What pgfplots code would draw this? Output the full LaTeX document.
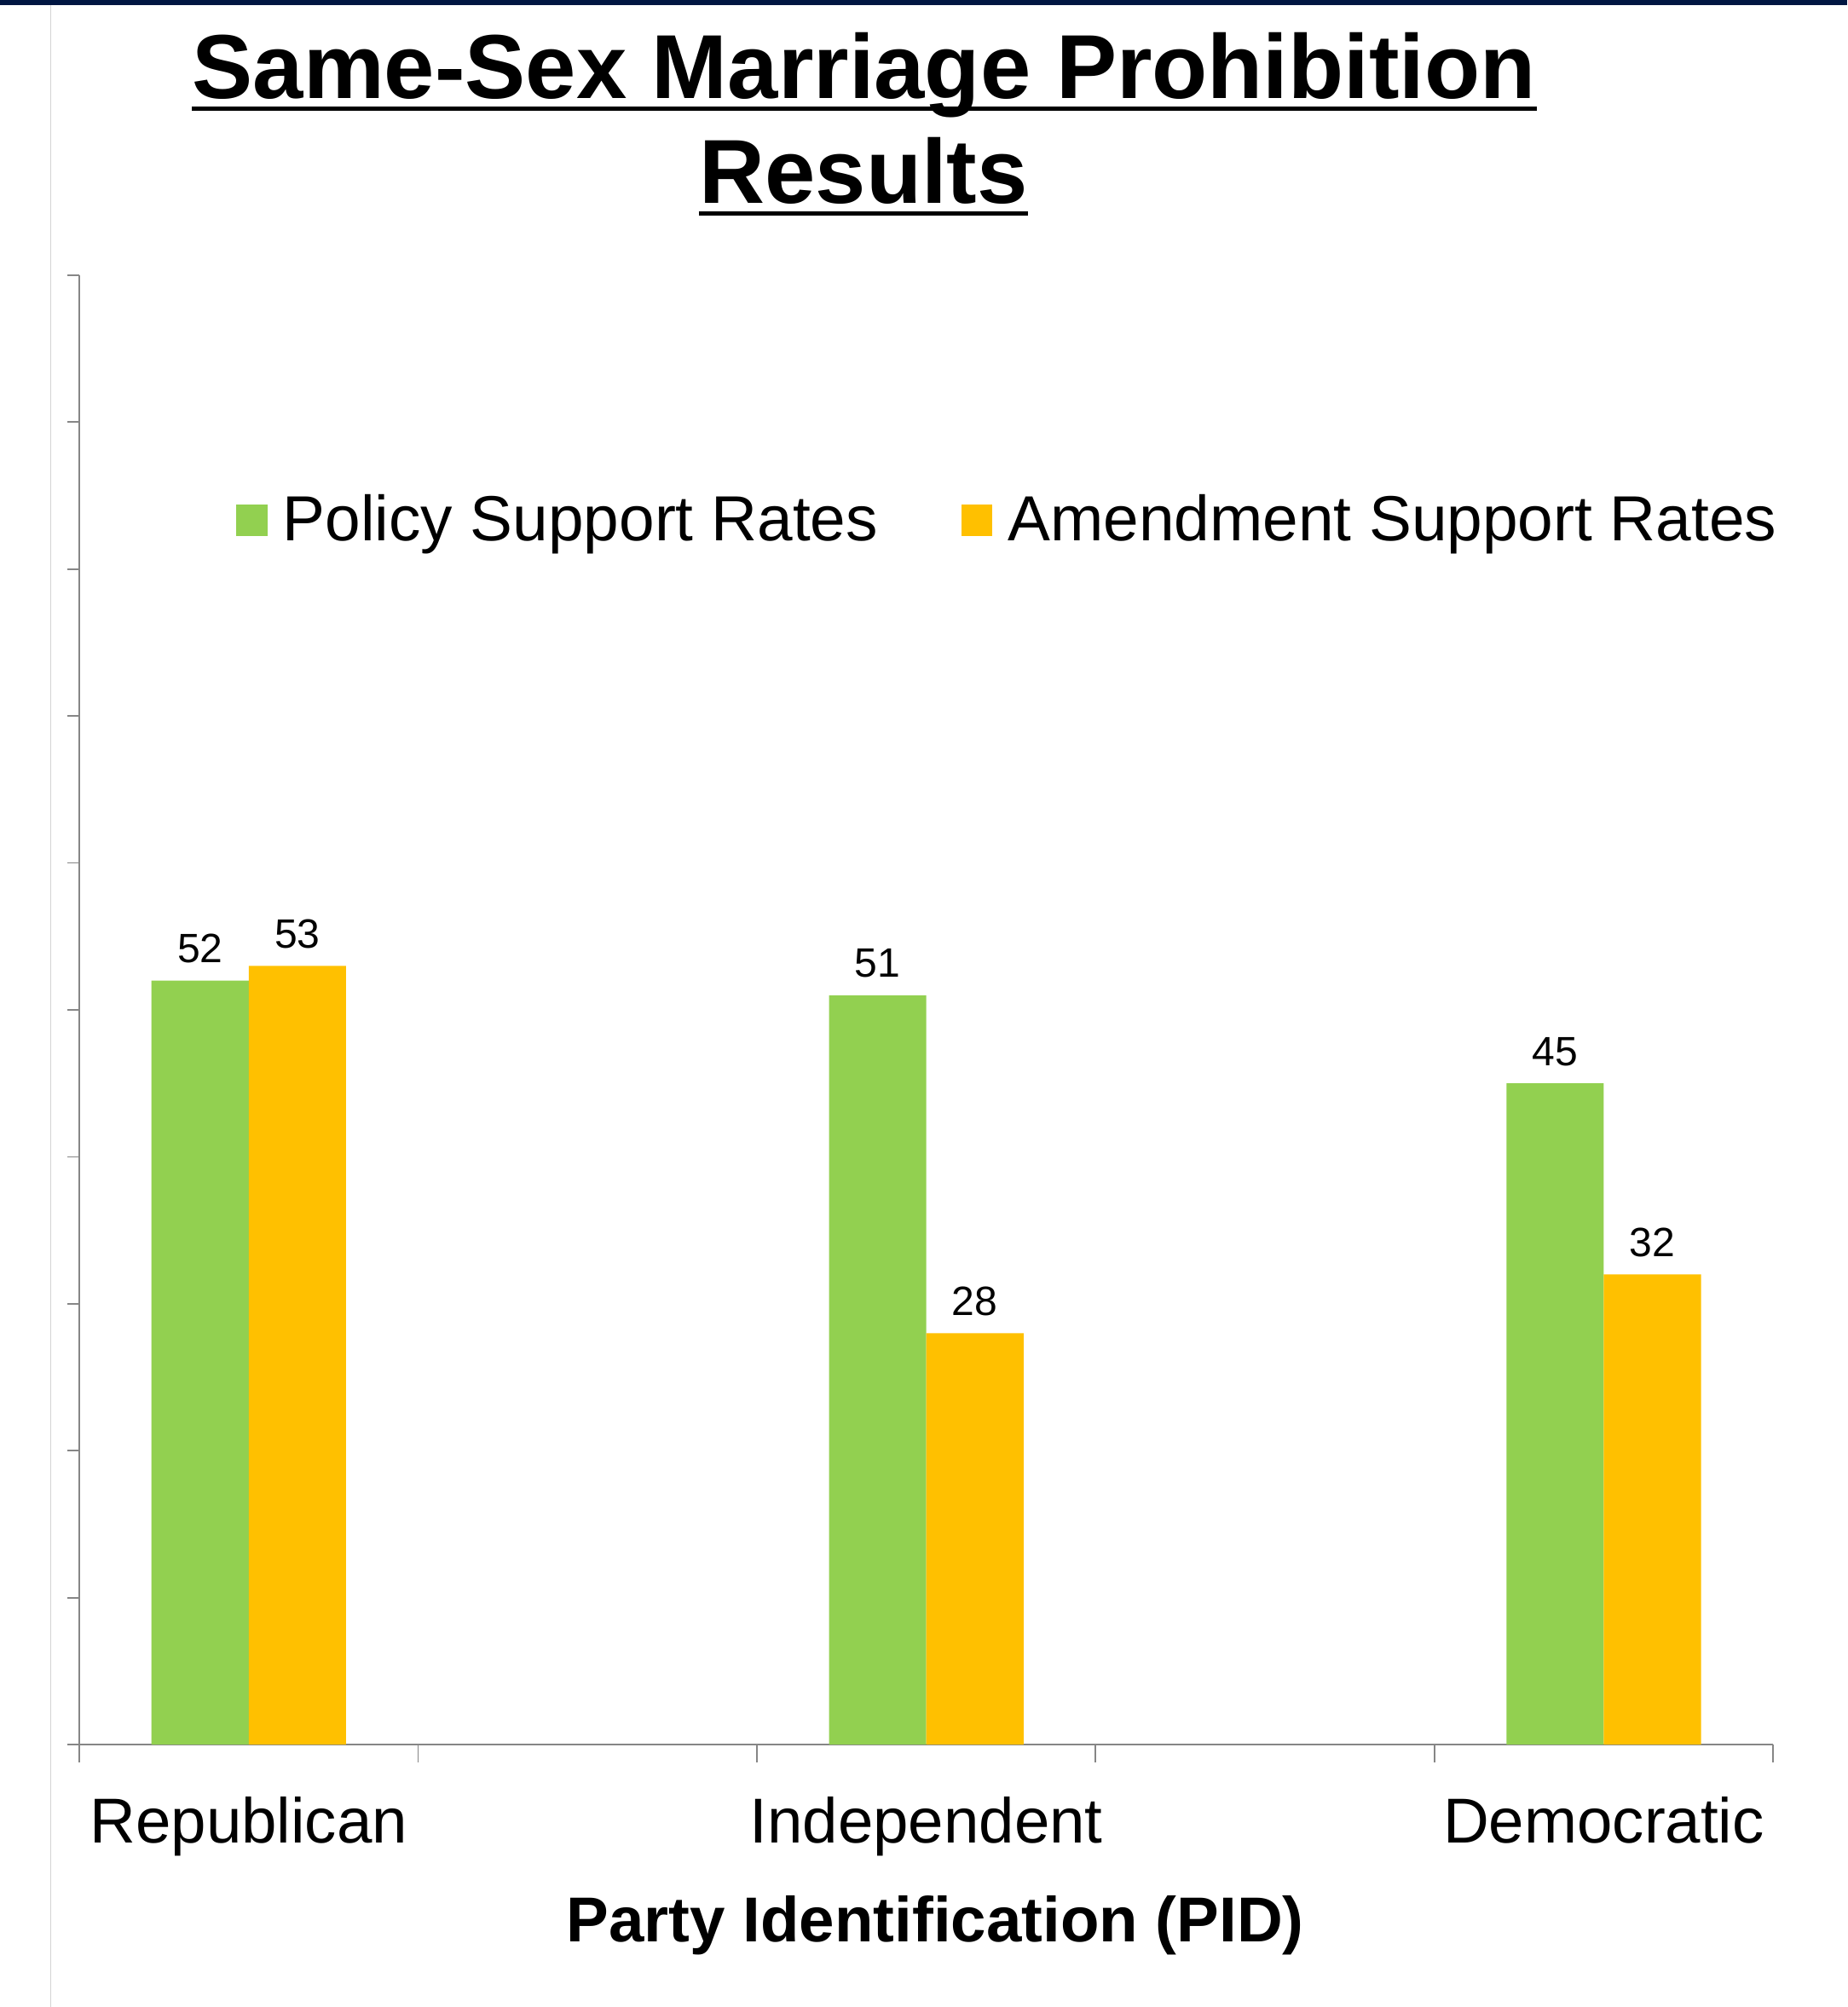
\documentclass[border=0pt]{standalone}
\usepackage{fontspec}
\setmainfont{Liberation Sans}
\usepackage{pgfplots}
\pgfplotsset{compat=1.18}
\definecolor{pgreen}{RGB}{146,208,80}
\definecolor{porange}{RGB}{255,192,0}
\definecolor{navy}{RGB}{0,22,66}
\definecolor{axgray}{RGB}{134,134,134}
\definecolor{lgray}{RGB}{212,212,212}
\pgfplotsset{sqlegend/.style={legend image code/.code={\fill[##1,draw=none] (0pt,2pt) rectangle (12.2pt,14.2pt);}}}
\begin{document}
\begin{tikzpicture}
\fill[navy] (0pt,782.1pt) rectangle (721.5pt,784pt);
\draw[lgray, line width=0.5pt] (19.8pt,0pt) -- (19.8pt,782.1pt);
\node[anchor=base, inner sep=0pt, font=\fontsize{35.5}{40}\selectfont\bfseries] (t1) at (337.5pt,745.5pt) {Same-Sex Marriage Prohibition};
\draw[line width=1.6pt] ([yshift=-4pt]t1.base west) -- ([yshift=-4pt]t1.base east);
\node[anchor=base, inner sep=0pt, font=\fontsize{35.5}{40}\selectfont\bfseries] (t2) at (337.25pt,704.7pt) {Results};
\draw[line width=1.6pt] ([yshift=-4pt]t2.base west) -- ([yshift=-4pt]t2.base east);
\begin{axis}[
  at={(31pt,102.5pt)}, anchor=south west,
  scale only axis, width=661.5pt, height=574pt,
  xmin=-0.5, xmax=4.5, ymin=0, ymax=100,
  axis x line*=bottom, axis y line*=left,
  axis line style={axgray, line width=0.6pt},
  /pgf/number format/assume math mode=true,
  ytick={0,10,...,100}, yticklabel=\empty,
  xtick={0,2,4}, xticklabels={Republican,Independent,Democratic},
  minor xtick={-0.5,0.5,1.5,2.5,3.5,4.5},
  tick align=outside,
  major tick length=4.6pt, minor tick length=7pt,
  major x tick style={draw=none},
  tick style={axgray, line width=0.6pt},
  minor tick style={axgray, line width=0.6pt},
  xticklabel style={font=\fontsize{24.8}{29}\selectfont, anchor=base, yshift=-33.9pt},
  xlabel={Party Identification (PID)},
  xlabel style={font=\fontsize{24.8}{29}\selectfont\bfseries, at={(axis description cs:0.5053,0)}, anchor=base, yshift=-77pt},
  ybar, bar width=0.2872,
  nodes near coords,
  nodes near coords style={font=\fontsize{16}{19}\selectfont, anchor=base, yshift=7pt, text=black},
  legend columns=2,
  legend cell align=left,
  legend style={draw=none, fill=none, at={(0.0922,0.851)}, anchor=north west,
    font=\fontsize{24.9}{29}\selectfont, inner sep=0pt, nodes={inner sep=0pt},
    cells={anchor=base west},
    /tikz/every odd column/.append style={column sep=6pt},
    /tikz/every even column/.append style={column sep=32.5pt}},
]
\addplot[fill=pgreen, draw=none, bar shift=-0.1436, sqlegend] coordinates {(0,52) (2,51) (4,45)};
\addplot[fill=porange, draw=none, bar shift=0.1436, sqlegend] coordinates {(0,53) (2,28) (4,32)};
\legend{Policy Support Rates, Amendment Support Rates}
\end{axis}
\pgfresetboundingbox
\path[use as bounding box] (0pt,0pt) rectangle (721.5pt,784pt);
\end{tikzpicture}
\end{document}
